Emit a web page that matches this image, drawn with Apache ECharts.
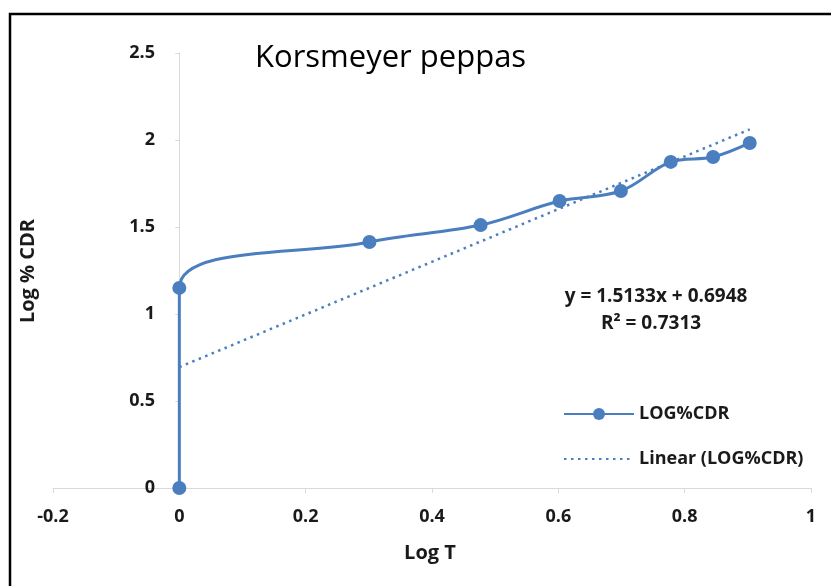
<!DOCTYPE html>
<html>
<head>
<meta charset="utf-8">
<script src="https://cdn.jsdelivr.net/npm/echarts@6/dist/echarts.min.js"></script>
<style>
  html, body { margin: 0; padding: 0; background: #fff; }
  #main { width: 831px; height: 586px; }
</style>
</head>
<body>
<div id="main"></div>
<script>
// data
var logT = [0, 0, 0.301, 0.477, 0.602, 0.699, 0.778, 0.845, 0.903];
var logCDR = [0, 1.15, 1.414, 1.511, 1.649, 1.707, 1.874, 1.902, 1.983];
var slope = 1.5133, intercept = 0.6948;
var trendX = [0, 0.903];
var xTicks = [-0.2, 0, 0.2, 0.4, 0.6, 0.8, 1];
var yTicks = [0, 0.5, 1, 1.5, 2, 2.5];

var blue = '#4a7ebf';
var txt = '#1a1a1a';
var font = 'Open Sans';

var points = logT.map(function (x, i) { return [x, logCDR[i]]; });
var trend = trendX.map(function (x) { return [x, slope * x + intercept]; });

var chart = echarts.init(document.getElementById('main'));
var option = {
  animation: false,
  grid: { left: 53, right: 20, top: 53, bottom: 98 },
  xAxis: {
    type: 'value',
    min: xTicks[0], max: xTicks[xTicks.length - 1], interval: 0.2,
    axisLine: { onZero: true, lineStyle: { color: '#d9d9d9', width: 1 } },
    axisTick: { show: true, length: 5, lineStyle: { color: '#d9d9d9' } },
    splitLine: { show: false },
    axisLabel: {
      margin: 20, color: txt, fontSize: 18, fontWeight: 'bold', fontFamily: font,
      formatter: function (v) { return String(Math.round(v * 10) / 10); }
    }
  },
  yAxis: {
    type: 'value',
    min: yTicks[0], max: yTicks[yTicks.length - 1], interval: 0.5,
    axisLine: { show: true, onZero: true, lineStyle: { color: '#d9d9d9', width: 1 } },
    axisTick: { show: true, length: 4, lineStyle: { color: '#d9d9d9' } },
    splitLine: { show: false },
    axisLabel: { margin: -102, color: txt, fontSize: 18, fontWeight: 'bold', fontFamily: font }
  },
  legend: {
    orient: 'vertical', left: 558, top: 400, itemGap: 27,
    itemWidth: 70, itemHeight: 15,
    textStyle: { color: txt, fontSize: 18, fontWeight: 'bold', fontFamily: font },
    data: [
      { name: 'LOG%CDR' },
      { name: 'Linear (LOG%CDR)', itemStyle: { opacity: 0 } }
    ]
  },
  series: [
    {
      name: 'LOG%CDR', type: 'line', data: points, smooth: 0.35,
      symbol: 'circle', symbolSize: 14,
      lineStyle: { color: blue, width: 3 },
      itemStyle: { color: blue }, z: 3
    },
    {
      name: 'Linear (LOG%CDR)', type: 'line', data: trend,
      symbol: 'none',
      lineStyle: { color: blue, width: 2.5, type: [2.5, 4.5] },
      itemStyle: { color: blue }, z: 2
    }
  ],
  graphic: [
    { type: 'rect', shape: { x: 10, y: 14, width: 900, height: 700 },
      style: { fill: 'none', stroke: '#000', lineWidth: 2.5 }, silent: true },
    { type: 'text', left: 255, top: 43,
      style: { text: 'Korsmeyer peppas', fill: '#000', font: '31px "' + font + '"' } },
    { type: 'text', x: 656, y: 297,
      style: { text: 'y = 1.5133x + 0.6948', fill: txt, align: 'center', verticalAlign: 'middle',
        font: 'bold 19px "' + font + '"' } },
    { type: 'text', x: 651, y: 324,
      style: { text: 'R² = 0.7313', fill: txt, align: 'center', verticalAlign: 'middle',
        font: 'bold 19px "' + font + '"' } },
    { type: 'text', x: 430, y: 553,
      style: { text: 'Log T', fill: txt, align: 'center', verticalAlign: 'middle',
        font: 'bold 20px "' + font + '"' } },
    { type: 'text', x: 28, y: 271, rotation: Math.PI / 2,
      style: { text: 'Log % CDR', fill: txt, align: 'center', verticalAlign: 'middle',
        font: 'bold 20px "' + font + '"' } }
  ]
};
chart.setOption(option);
</script>
</body>
</html>
